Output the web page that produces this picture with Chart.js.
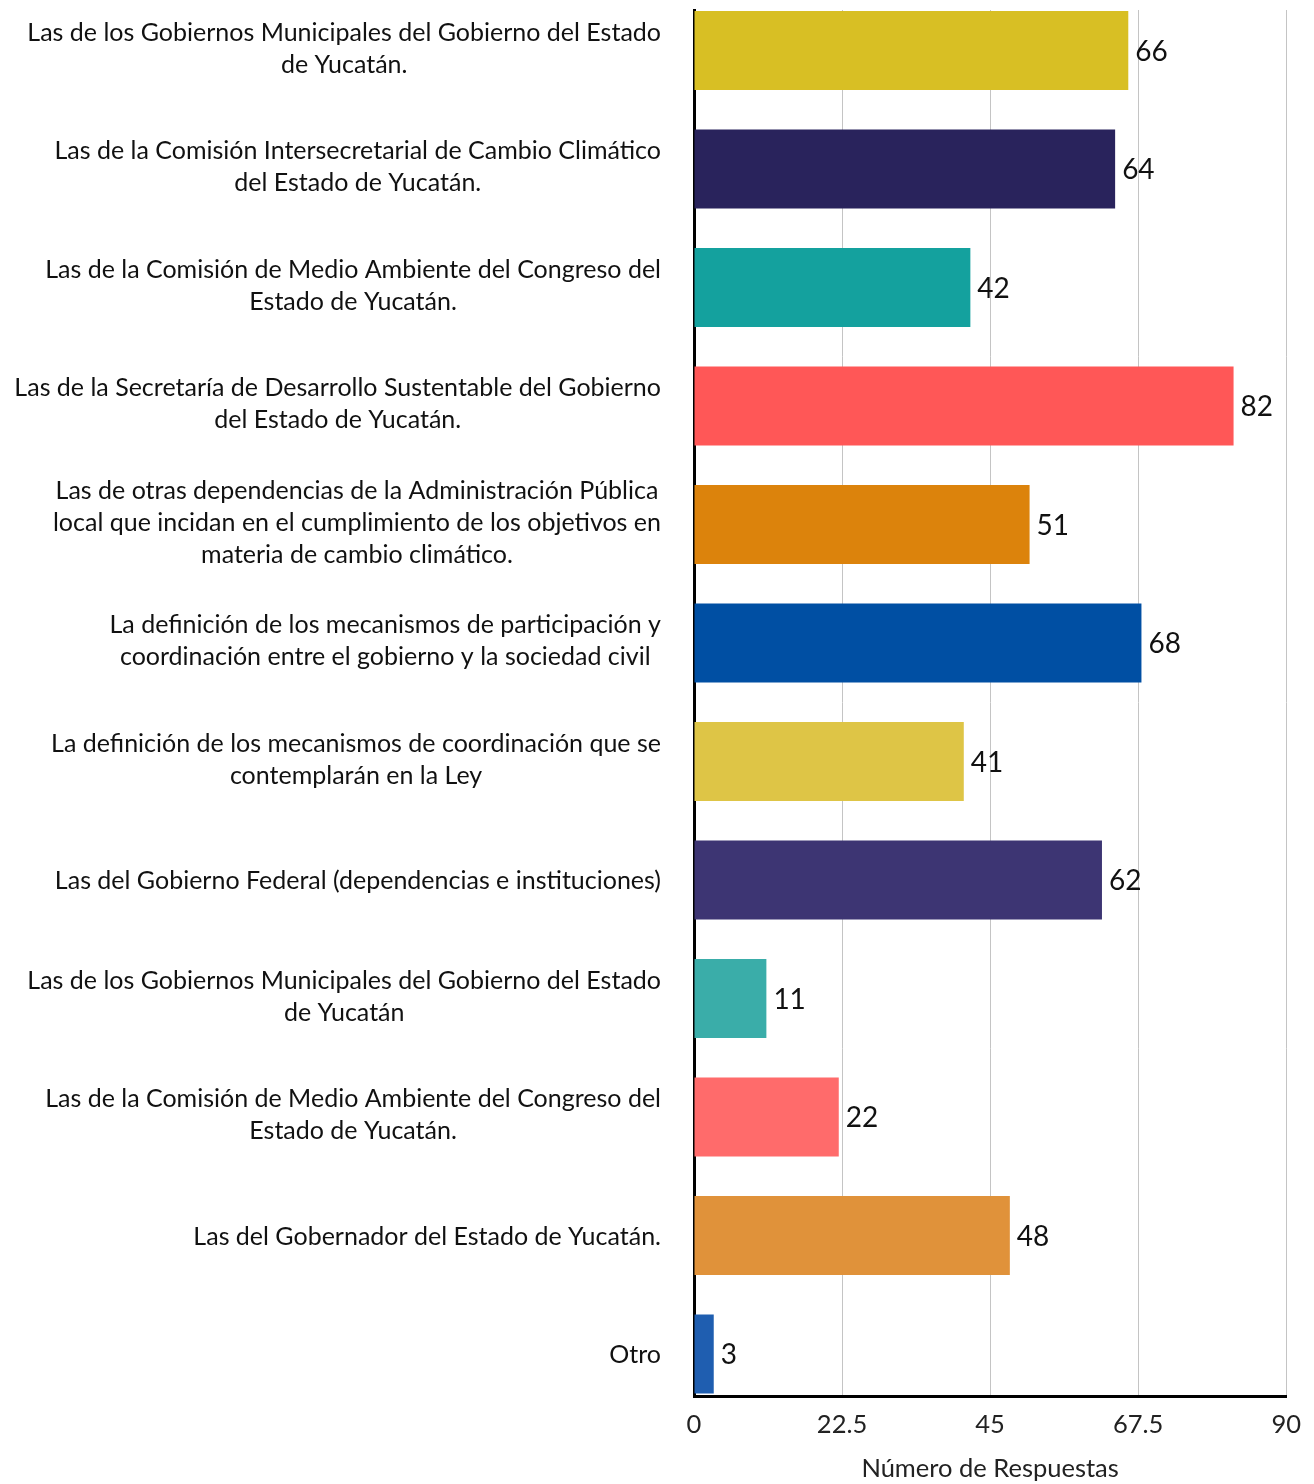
<!DOCTYPE html>
<html>
<head>
<meta charset="utf-8">
<script src="https://cdn.jsdelivr.net/npm/chart.js@4/dist/chart.umd.min.js"></script>
<style>
  html, body { margin: 0; padding: 0; background: #fff; }
  #wrap { position: relative; width: 1314px; height: 1484px; }
</style>
</head>
<body>
<div id="wrap"><canvas id="bar-chartcanvas"></canvas></div>
<script>
// categories (each entry split into lines as in the picture)
var labels = [
	["Las de los Gobiernos Municipales del Gobierno del Estado", "de Yucatán."],
	["Las de la Comisión Intersecretarial de Cambio Climático", "del Estado de Yucatán."],
	["Las de la Comisión de Medio Ambiente del Congreso del", "Estado de Yucatán."],
	["Las de la Secretaría de Desarrollo Sustentable del Gobierno", "del Estado de Yucatán."],
	["Las de otras dependencias de la Administración Pública", "local que incidan en el cumplimiento de los objetivos en", "materia de cambio climático."],
	["La definición de los mecanismos de participación y", "coordinación entre el gobierno y la sociedad civil"],
	["La definición de los mecanismos de coordinación que se", "contemplarán en la Ley"],
	["Las del Gobierno Federal (dependencias e instituciones)"],
	["Las de los Gobiernos Municipales del Gobierno del Estado", "de Yucatán"],
	["Las de la Comisión de Medio Ambiente del Congreso del", "Estado de Yucatán."],
	["Las del Gobernador del Estado de Yucatán."],
	["Otro"]
];
var respuestas = [66, 64, 42, 82, 51, 68, 41, 62, 11, 22, 48, 3];
var xTicks = [0, 22.5, 45, 67.5, 90];
var colores = ["#D8BF24", "#29235C", "#14A19E", "#FF5757", "#DC830C", "#004FA3",
	"#DEC546", "#3D3573", "#3AADA9", "#FF6B6B", "#E0923A", "#1F5EB0"];

var FONT = "Lato, 'Noto Sans', sans-serif";

var points = [];
for (var i = 0; i < respuestas.length; i++) {
	points.push({ x: respuestas[i], y: i });
}

// value at the end of each bar + category labels drawn right-aligned, lines centred
var barText = {
	id: "barText",
	afterDatasetsDraw: function(chart) {
		var ctx = chart.ctx;
		var meta = chart.getDatasetMeta(0);
		var yScale = chart.scales.y;
		ctx.save();
		ctx.fillStyle = "#111";
		ctx.textBaseline = "middle";
		ctx.font = "28px " + FONT;
		ctx.textAlign = "left";
		meta.data.forEach(function(bar, i) {
			ctx.fillText(String(respuestas[i]), bar.x + 7, bar.y + 1);
		});
		ctx.font = "25px " + FONT;
		ctx.textAlign = "center";
		var right = 661, lh = 32;
		labels.forEach(function(lines, i) {
			var w = 0;
			lines.forEach(function(l) { w = Math.max(w, ctx.measureText(l).width); });
			var cx = right - w / 2;
			var cy = yScale.getPixelForValue(i) + (lines.length == 1 ? 1 : -2);
			var y0 = cy - (lines.length - 1) * lh / 2;
			lines.forEach(function(l, k) { ctx.fillText(l, cx, y0 + k * lh); });
		});
		ctx.restore();
	}
};

var ctx1 = document.getElementById("bar-chartcanvas");

var chart1 = new Chart(ctx1, {
	type: "bar",
	data: {
		datasets: [{
			label: "Número de Respuestas",
			data: points,
			backgroundColor: colores,
			borderWidth: 0,
			barPercentage: 0.667,
			categoryPercentage: 1
		}]
	},
	options: {
		indexAxis: "y",
		responsive: true,
		maintainAspectRatio: false,
		animation: false,
		layout: { padding: { left: 686, right: 27, top: 10, bottom: 0 } },
		plugins: {
			legend: { display: false },
			tooltip: { enabled: false }
		},
		scales: {
			x: {
				type: "linear",
				min: 0,
				max: 90,
				afterBuildTicks: function(scale) {
					scale.ticks = xTicks.map(function(v) { return { value: v }; });
				},
				afterFit: function(scale) { scale.height = 88; },
				grid: { color: "#c4c4c4", lineWidth: 1, drawTicks: false },
				border: { display: true, color: "#000", width: 3 },
				ticks: {
					color: "#222",
					padding: 13,
					font: { family: FONT, size: 25.5 },
					maxRotation: 0
				},
				title: {
					display: true,
					text: "Número de Respuestas",
					color: "#222",
					font: { family: FONT, size: 25.5 },
					padding: { top: 14, bottom: 0 }
				}
			},
			y: {
				type: "linear",
				reverse: true,
				offset: false,
				min: -0.342,
				max: 11.354,
				grid: { display: false },
				border: { display: true, color: "#000", width: 3 },
				ticks: { display: false, stepSize: 1, includeBounds: false }
			}
		}
	},
	plugins: [barText]
});
</script>
</body>
</html>
